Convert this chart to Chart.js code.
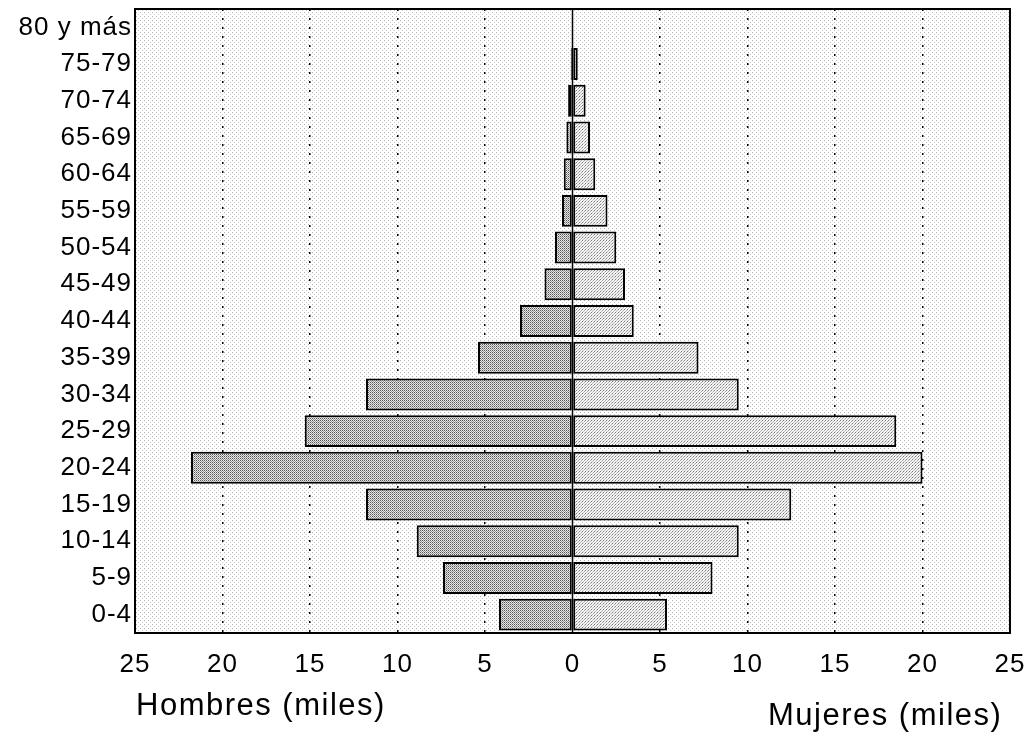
<!DOCTYPE html>
<html>
<head>
<meta charset="utf-8">
<script src="https://cdn.jsdelivr.net/npm/chart.js@4/dist/chart.umd.min.js"></script>
<style>
  body { margin: 0; background: #fff; }
  #wrap { width: 1028px; height: 744px; }
</style>
</head>
<body>
<div id="wrap"><canvas id="pyramid" width="1028" height="744"></canvas></div>
<script>
// age groups, bottom to top
const ageGroups = ['0-4', '5-9', '10-14', '15-19', '20-24', '25-29', '30-34', '35-39',
    '40-44', '45-49', '50-54', '55-59', '60-64', '65-69', '70-74', '75-79', '80 y más'];
// thousands of people
const hombres = [4.2, 7.4, 8.9, 11.8, 21.8, 15.3, 11.8, 5.4, 3.0, 1.6, 1.0, 0.6, 0.5, 0.35, 0.25, 0.1, 0];
const mujeres = [5.4, 8.0, 9.5, 12.5, 20.0, 18.5, 9.5, 7.2, 3.5, 3.0, 2.5, 2.0, 1.3, 1.0, 0.75, 0.3, 0];
const xTicks = [-25, -20, -15, -10, -5, 0, 5, 10, 15, 20, 25];

// small dotted tiles to imitate the printed screen
const makeDots = function(base, dots, size) {
    const c = document.createElement('canvas');
    c.width = size; c.height = size;
    const g = c.getContext('2d');
    g.fillStyle = base;
    g.fillRect(0, 0, size, size);
    dots.forEach(d => { g.fillStyle = d[2]; g.fillRect(d[0], d[1], 1, 1); });
    return g.createPattern(c, 'repeat');
};
const ctx = document.getElementById('pyramid').getContext('2d');
const bgDots = makeDots('#ffffff', [[0, 0, '#b0b0b0'], [2, 2, '#c8c8c8']], 4);
const menDots = makeDots('#e6e6e6', [[0, 0, '#555555'], [1, 1, '#999999']], 2);
const womenDots = makeDots('#f4f4f4', [[0, 0, '#7a7a7a'], [2, 1, '#aaaaaa'], [1, 2, '#bbbbbb']], 3);

const framePlugin = {
    id: 'frame',
    beforeInit(chart) {
        chart.ctx.letterSpacing = '1px';
    },
    beforeDraw(chart) {
        const a = chart.chartArea;
        const c = chart.ctx;
        c.letterSpacing = '1px';
        c.save();
        c.fillStyle = bgDots;
        c.fillRect(a.left, a.top, a.right - a.left, a.bottom - a.top);
        c.restore();
    },
    afterDatasetsDraw(chart) {
        const a = chart.chartArea;
        const c = chart.ctx;
        const x0 = chart.scales.x.getPixelForValue(0);
        c.save();
        c.strokeStyle = '#000';
        c.lineWidth = 1.5;
        c.beginPath();
        c.moveTo(x0, a.top);
        c.lineTo(x0, a.bottom);
        c.stroke();
        c.lineWidth = 2;
        c.strokeRect(a.left, a.top, a.right - a.left, a.bottom - a.top);
        // axis captions
        c.fillStyle = '#000';
        c.font = '31px "Liberation Sans", Arial, sans-serif';
        c.letterSpacing = '1.5px';
        c.textBaseline = 'alphabetic';
        c.textAlign = 'left';
        c.fillText('Hombres (miles)', 136, 715);
        c.fillText('Mujeres (miles)', 768, 725);
        c.restore();
    }
};

new Chart(ctx, {
    type: 'bar',
    data: {
        labels: ageGroups,
        datasets: [{
            label: 'Hombres',
            data: hombres.map(v => -v),
            backgroundColor: menDots,
            borderColor: '#000',
            borderWidth: 2,
            borderSkipped: false,
        }, {
            label: 'Mujeres',
            data: mujeres,
            backgroundColor: womenDots,
            borderColor: '#000',
            borderWidth: 2,
            borderSkipped: false,
        }]
    },
    options: {
        indexAxis: 'y',
        responsive: false,
        animation: false,
        maintainAspectRatio: false,
        categoryPercentage: 0.87,
        barPercentage: 1,
        layout: { padding: { top: 9, right: 18, left: 0, bottom: 0 } },
        plugins: {
            legend: { display: false },
            tooltip: { enabled: false },
        },
        scales: {
            x: {
                type: 'linear',
                stacked: true,
                min: -25,
                max: 25,
                afterBuildTicks: scale => { scale.ticks = xTicks.map(v => ({ value: v })); },
                afterFit: scale => {
                    scale.height = 111;
                    scale.paddingLeft = 0;
                    scale.paddingRight = 0;
                },
                border: { display: false, dash: [2, 7] },
                grid: {
                    drawTicks: false,
                    lineWidth: 1.5,
                    color: c => (c.tick && Math.abs(c.tick.value) > 0 && Math.abs(c.tick.value) < 25) ? '#000' : 'rgba(0,0,0,0)',
                },
                ticks: {
                    color: '#000',
                    padding: 16,
                    maxRotation: 0,
                    autoSkip: false,
                    font: { family: '"Liberation Sans", Arial, sans-serif', size: 26 },
                    callback: v => Math.abs(v),
                },
            },
            y: {
                stacked: true,
                reverse: true,
                afterFit: scale => {
                    scale.width = 135;
                    scale.paddingTop = 0;
                    scale.paddingBottom = 0;
                },
                border: { display: false },
                grid: { display: false, drawTicks: false },
                ticks: {
                    color: '#000',
                    padding: 3,
                    autoSkip: false,
                    font: { family: '"Liberation Sans", Arial, sans-serif', size: 26 },
                },
            },
        },
    },
    plugins: [framePlugin],
});
</script>
</body>
</html>
